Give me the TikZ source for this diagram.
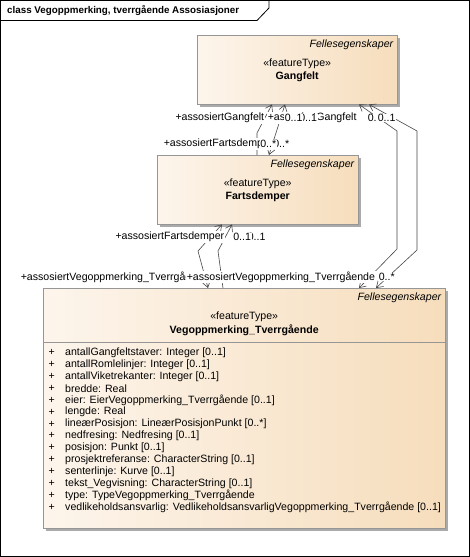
\documentclass[tikz,border=0pt]{standalone}
\usepackage{fontspec}
\setmainfont{Liberation Sans}
\usetikzlibrary{arrows.meta,shadows,positioning,calc}

\definecolor{boxL}{RGB}{253,245,236}
\definecolor{boxR}{RGB}{246,221,188}
\definecolor{boxEdge}{RGB}{150,150,150}
\definecolor{boxShadow}{RGB}{170,170,170}
\definecolor{lineGray}{RGB}{70,70,70}

\newcommand{\umlfont}{\fontsize{10.6}{12}\selectfont}

\tikzset{navtip/.tip={Straight Barb[length=6pt,width=8pt]}}

\begin{document}
\begin{tikzpicture}[x=1pt,y=-1pt,
    plaintext/.style={font=\umlfont, inner sep=0pt},
    tagtext/.style={font=\umlfont\itshape, inner sep=0pt},
    nametext/.style={font=\umlfont\bfseries, inner sep=0pt},
    roletext/.style={font=\umlfont, fill=white, inner sep=0.6pt},
    classbox/.style={draw=boxEdge, left color=boxL, right color=boxR,
        anchor=north west, inner sep=0pt,
        drop shadow={shadow xshift=3pt, shadow yshift=-3pt, fill=boxShadow, opacity=1}},
    assoc/.style={draw=lineGray, line width=0.6pt},
]

    % Frame and title tab
    \useasboundingbox (0,0) rectangle (470,557);
    \draw[line width=1pt] (0.5,0.5) rectangle (469.5,556.5);
    \draw[line width=0.8pt] (0.5,20.5) -- (257,20.5) -- (269,8) -- (269,0.5);
    \node[font=\fontsize{9.8}{12}\selectfont\bfseries, inner sep=0pt, anchor=west] (title) at (7,11)
        {class Vegoppmerking, tverrgående Assosiasjoner};

    % Helper: stereotype, tag and name of a class box
    \newcommand{\classhead}[2]{%
        \node[tagtext, anchor=east] (#1Tag) at ($(#1.north east)+(-4,10)$) {Fellesegenskaper};
        \node[plaintext] (#1Stereo) at ($(#1.north)+(0,29)$) {«featureType»};
        \node[nametext] (#1Name) at ($(#1.north)+(0,42)$) {#2};
    }

    % ---- classes ----
    \node[classbox, minimum width=200pt, minimum height=69pt] (gangfelt) at (197,35) {};
    \node[classbox, minimum width=201pt, minimum height=69pt] (fartsdemper) at (157,155) {};
    \node[classbox, minimum width=402pt, minimum height=240pt] (vegTverr) at (43,288) {};

    \classhead{gangfelt}{Gangfelt}
    \classhead{fartsdemper}{Fartsdemper}
    \classhead{vegTverr}{Vegoppmerking\_Tverrgående}

    % attribute compartment
    \draw[boxEdge] ($(vegTverr.north west)+(0,54)$) coordinate (divL)
        -- ($(vegTverr.north east)+(0,54)$) coordinate (divR);

    \foreach \attr [count=\i] in {
        {antallGangfeltstaver: Integer [0..1]},
        {antallRomlelinjer: Integer [0..1]},
        {antallViketrekanter: Integer [0..1]},
        {bredde: Real},
        {eier: EierVegoppmerking\_Tverrgående [0..1]},
        {lengde: Real},
        {lineærPosisjon: LineærPosisjonPunkt [0..*]},
        {nedfresing: Nedfresing [0..1]},
        {posisjon: Punkt [0..1]},
        {prosjektreferanse: CharacterString [0..1]},
        {senterlinje: Kurve [0..1]},
        {tekst\_Vegvisning: CharacterString [0..1]},
        {type: TypeVegoppmerking\_Tverrgående},
        {vedlikeholdsansvarlig: VedlikeholdsansvarligVegoppmerking\_Tverrgående [0..1]}
    }{
        \node[plaintext] (plus\i) at ($(vegTverr.north west)+(8.7,{52.7+11.9*\i})$) {+};
        \node[plaintext, anchor=west] (attr\i) at ($(vegTverr.north west)+(22,{52.7+11.9*\i})$) {\attr};
    }

    % ---- association end points and bends ----
    \coordinate (gA) at ($(gangfelt.south west)+(75,0)$);
    \coordinate (gB) at ($(gangfelt.south west)+(88,0)$);
    \coordinate (gC) at ($(gangfelt.south west)+(162,0)$);
    \coordinate (gD) at ($(gangfelt.south west)+(172,0)$);
    \coordinate (fA) at ($(fartsdemper.north west)+(100,0)$);
    \coordinate (fB) at ($(fartsdemper.north west)+(112,0)$);
    \coordinate (fE) at ($(fartsdemper.south west)+(65,0)$);
    \coordinate (fF) at ($(fartsdemper.south west)+(75,0)$);
    \coordinate (vE) at ($(vegTverr.north west)+(165,0)$);
    \coordinate (vF) at ($(vegTverr.north west)+(180,0)$);
    \coordinate (vC) at ($(vegTverr.north west)+(316,0)$);
    \coordinate (vD) at ($(vegTverr.north west)+(333,0)$);

    % Gangfelt - Fartsdemper
    \draw[assoc, navtip-] (gA) -- (257,133) -- (fA);
    \draw[assoc, navtip-navtip] (gB) -- (fB);

    % Fartsdemper - Vegoppmerking_Tverrgående
    \draw[assoc, navtip-navtip] (fE) -- (198,251) -- (vE);
    \draw[assoc, navtip-] (fF) -- (218,251) -- (vF);

    % Gangfelt - Vegoppmerking_Tverrgående
    \draw[assoc, navtip-navtip] (gC) -- (397,131) -- (397,249) -- (vC);
    \draw[assoc, navtip-navtip] (gD) -- (417,131) -- (417,250) -- (vD);

    % ---- role names and multiplicities ----
    \node[roletext, anchor=east] (roleG1) at (265,118) {+assosiertGangfelt};
    \node[roletext, anchor=west] (roleG2) at (267,118) {+assosiertGangfelt};
    \node[roletext, anchor=west] (multG2) at (298.5,118) {0..1};
    \node[roletext, anchor=west] (multG1) at (284,118) {0..1};
    \node[roletext, anchor=west] (multG3) at (367,118) {0..1};
    \node[roletext, anchor=west] (multG4) at (377,118) {0..1};

    \node[roletext, anchor=west] (roleF1) at (163,144) {+assosiertFartsdemper};
    \node[roletext, anchor=west] (multF2) at (272.5,144) {0..*};
    \node[roletext, anchor=west] (multF1) at (259.5,144) {0..*};

    \node[roletext, anchor=east] (roleF2) at (225,237) {+assosiertFartsdemper};
    \node[roletext, anchor=west] (multF4) at (247,237) {0..1};
    \node[roletext, anchor=west] (multF3) at (232.5,237) {0..1};

    \node[roletext, anchor=west] (roleV1) at (20,277) {+assosiertVegoppmerking\_Tverrgående};
    \node[roletext, anchor=west] (roleV2) at (186,277) {+assosiertVegoppmerking\_Tverrgående};
    \node[roletext, anchor=west] (multV1) at (378,277) {0..*};

\end{tikzpicture}
\end{document}
